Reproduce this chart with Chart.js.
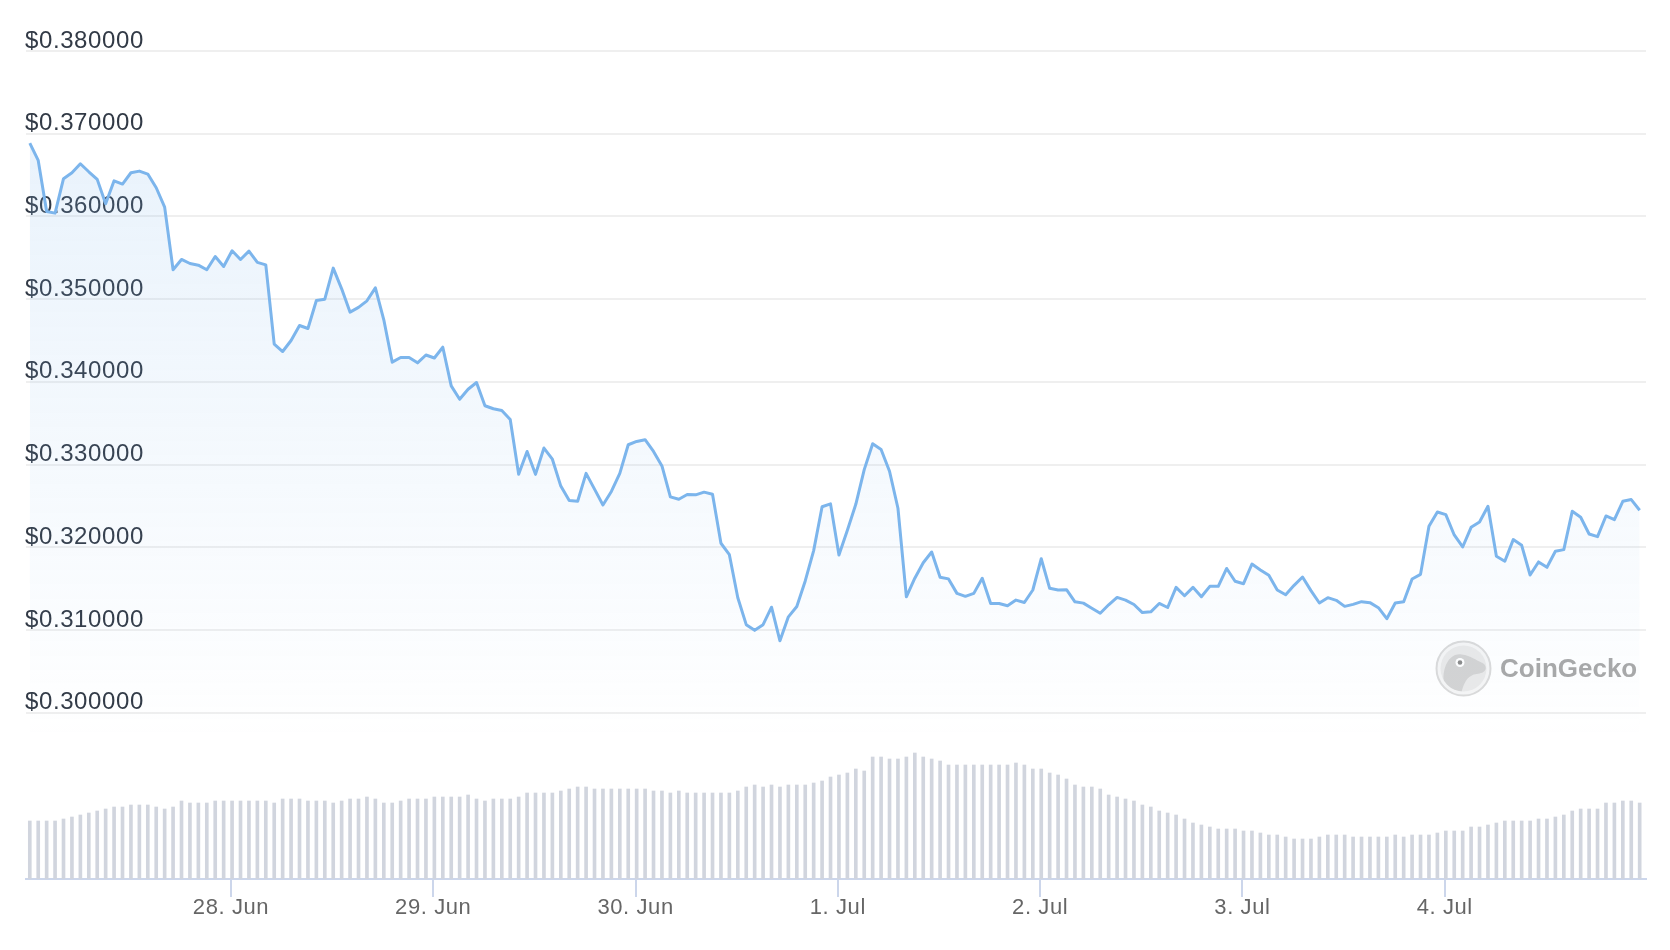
<!DOCTYPE html>
<html>
<head>
<meta charset="utf-8">
<title>Price chart</title>
<script src="https://cdn.jsdelivr.net/npm/chart.js@4/dist/chart.umd.min.js"></script>
<style>
  html, body { margin: 0; padding: 0; background: #fff; }
  #wrap { width: 1670px; height: 950px; position: relative; }
</style>
</head>
<body>
<div id="wrap"><canvas id="priceChart"></canvas></div>
<script>
// hourly price, 27 Jun 00:08 -> 4 Jul 23:08
const prices = [
  0.36887, 0.36677, 0.36060, 0.36040, 0.36456, 0.36528, 0.36637, 0.36540, 0.36448, 0.36153,
  0.36431, 0.36391, 0.36528, 0.36548, 0.36512, 0.36347, 0.36113, 0.35355, 0.35480, 0.35431,
  0.35411, 0.35355, 0.35516, 0.35395, 0.35585, 0.35480, 0.35581, 0.35444, 0.35415, 0.34456,
  0.34367, 0.34500, 0.34681, 0.34645, 0.34984, 0.35000, 0.35375, 0.35125, 0.34843, 0.34900,
  0.34980, 0.35137, 0.34750, 0.34238, 0.34294, 0.34294, 0.34230, 0.34325, 0.34289, 0.34419,
  0.33951, 0.33789, 0.33911, 0.33992, 0.33711, 0.33675, 0.33654, 0.33545, 0.32882, 0.33159,
  0.32882, 0.33200, 0.33065, 0.32740, 0.32565, 0.32557, 0.32894, 0.32703, 0.32512, 0.32675,
  0.32894, 0.33240, 0.33280, 0.33301, 0.33159, 0.32984, 0.32610, 0.32581, 0.32638, 0.32634,
  0.32667, 0.32642, 0.32049, 0.31911, 0.31390, 0.31065, 0.30996, 0.31065, 0.31276, 0.30870,
  0.31159, 0.31285, 0.31593, 0.31960, 0.32490, 0.32525, 0.31907, 0.32207, 0.32520, 0.32939,
  0.33252, 0.33183, 0.32919, 0.32472, 0.31402, 0.31626, 0.31813, 0.31943, 0.31638, 0.31618,
  0.31443, 0.31407, 0.31443, 0.31626, 0.31321, 0.31321, 0.31293, 0.31362, 0.31333, 0.31484,
  0.31862, 0.31504, 0.31484, 0.31488, 0.31341, 0.31325, 0.31264, 0.31203, 0.31305, 0.31394,
  0.31362, 0.31309, 0.31211, 0.31220, 0.31321, 0.31272, 0.31516, 0.31415, 0.31516, 0.31402,
  0.31528, 0.31528, 0.31744, 0.31590, 0.31560, 0.31798, 0.31726, 0.31661, 0.31484, 0.31427,
  0.31540, 0.31641, 0.31476, 0.31327, 0.31391, 0.31359, 0.31286, 0.31310, 0.31343, 0.31331,
  0.31270, 0.31137, 0.31327, 0.31343, 0.31617, 0.31673, 0.32254, 0.32427, 0.32395, 0.32149,
  0.32004, 0.32242, 0.32306, 0.32496, 0.31891, 0.31831, 0.32093, 0.32024, 0.31665, 0.31823,
  0.31758, 0.31952, 0.31972, 0.32435, 0.32363, 0.32161, 0.32129, 0.32379, 0.32335, 0.32556,
  0.32577, 0.32448
];

// hourly volume (millions)
const volumes = [
  5.8, 5.8, 5.8, 5.8, 6.0, 6.2, 6.4, 6.6, 6.8, 7.0,
  7.2, 7.2, 7.4, 7.4, 7.4, 7.2, 7.0, 7.2, 7.8, 7.6,
  7.6, 7.6, 7.8, 7.8, 7.8, 7.8, 7.8, 7.8, 7.8, 7.6,
  8.0, 8.0, 8.0, 7.8, 7.8, 7.8, 7.6, 7.8, 8.0, 8.0,
  8.2, 8.0, 7.6, 7.6, 7.8, 8.0, 8.0, 8.0, 8.2, 8.2,
  8.2, 8.2, 8.4, 8.0, 7.8, 8.0, 8.0, 8.0, 8.2, 8.6,
  8.6, 8.6, 8.6, 8.8, 9.0, 9.2, 9.2, 9.0, 9.0, 9.0,
  9.0, 9.0, 9.0, 9.0, 8.8, 8.8, 8.6, 8.8, 8.6, 8.6,
  8.6, 8.6, 8.6, 8.6, 8.8, 9.2, 9.4, 9.2, 9.4, 9.2,
  9.4, 9.4, 9.4, 9.6, 9.8, 10.2, 10.4, 10.6, 11.0, 10.8,
  12.2, 12.2, 12.0, 12.0, 12.2, 12.6, 12.2, 12.0, 11.8, 11.4,
  11.4, 11.4, 11.4, 11.4, 11.4, 11.4, 11.4, 11.6, 11.4, 11.0,
  11.0, 10.6, 10.4, 10.0, 9.4, 9.2, 9.2, 9.0, 8.4, 8.2,
  8.0, 7.8, 7.4, 7.2, 6.8, 6.6, 6.4, 6.0, 5.6, 5.4,
  5.2, 5.0, 5.0, 5.0, 4.8, 4.8, 4.6, 4.4, 4.4, 4.2,
  4.0, 4.0, 4.0, 4.2, 4.4, 4.4, 4.4, 4.2, 4.2, 4.2,
  4.2, 4.2, 4.4, 4.2, 4.4, 4.4, 4.4, 4.6, 4.8, 4.8,
  4.8, 5.2, 5.2, 5.4, 5.6, 5.8, 5.8, 5.8, 5.8, 6.0,
  6.0, 6.2, 6.4, 6.8, 7.0, 7.0, 7.0, 7.6, 7.6, 7.8,
  7.8, 7.6
];

const priceTicks = [0.30, 0.31, 0.32, 0.33, 0.34, 0.35, 0.36, 0.37, 0.38];
const dayTicks = [24, 48, 72, 96, 120, 144, 168];   // hours since 27 Jun 00:00
const dayLabels = ['28. Jun', '29. Jun', '30. Jun', '1. Jul', '2. Jul', '3. Jul', '4. Jul'];

const firstHour = 0.13;
const hours = prices.map((_, i) => firstHour + i);

const FONT = '"Liberation Sans", Arial, Helvetica, sans-serif';

// 漸層填色：上方淡藍，到 $0.30 以下淡出
function areaFill(context) {
  const { chart } = context;
  const { ctx, chartArea, scales } = chart;
  if (!chartArea) return 'rgba(124,181,236,0.1)';
  const top = scales.y.getPixelForValue(0.37);
  const bottom = scales.y.getPixelForValue(0.297);
  const g = ctx.createLinearGradient(0, top, 0, bottom);
  g.addColorStop(0, 'rgba(124,181,236,0.17)');
  g.addColorStop(0.9, 'rgba(124,181,236,0.02)');
  g.addColorStop(1, 'rgba(124,181,236,0)');
  return g;
}

// 刻度文字稍微加寬字距
const letterSpacing = {
  id: 'letterSpacing',
  beforeDraw(chart) { chart.ctx.letterSpacing = '0.6px'; },
  afterDraw(chart) { chart.ctx.letterSpacing = '0px'; }
};

// CoinGecko 浮水印
const watermark = {
  id: 'watermark',
  beforeDatasetsDraw(chart) {
    const { ctx } = chart;
    const cx = 1463.5, cy = 668.5, r = 27;
    ctx.save();
    ctx.letterSpacing = '0px';
    ctx.beginPath();
    ctx.arc(cx, cy, r, 0, Math.PI * 2);
    ctx.fillStyle = '#f5f5f5';
    ctx.fill();
    ctx.lineWidth = 2;
    ctx.strokeStyle = '#dadada';
    ctx.stroke();
    ctx.beginPath();
    ctx.arc(cx, cy, r - 4, 0, Math.PI * 2);
    ctx.fillStyle = '#e9e9e9';
    ctx.fill();
    // gecko head
    ctx.save();
    ctx.beginPath();
    ctx.arc(cx, cy, r - 4, 0, Math.PI * 2);
    ctx.clip();
    ctx.beginPath();
    ctx.moveTo(cx - 18, cy + 24);
    ctx.bezierCurveTo(cx - 24, cy + 4, cx - 16, cy - 16, cx - 2, cy - 14);
    ctx.bezierCurveTo(cx + 8, cy - 13, cx + 12, cy - 8, cx + 18, cy - 6);
    ctx.bezierCurveTo(cx + 24, cy - 4, cx + 24, cy + 4, cx + 16, cy + 5);
    ctx.bezierCurveTo(cx + 8, cy + 6, cx + 2, cy + 8, cx - 2, cy + 24);
    ctx.closePath();
    ctx.fillStyle = '#d3d3d3';
    ctx.fill();
    ctx.restore();
    ctx.beginPath();
    ctx.arc(cx - 3.5, cy - 6, 4.5, 0, Math.PI * 2);
    ctx.fillStyle = '#ffffff';
    ctx.fill();
    ctx.beginPath();
    ctx.arc(cx - 3.5, cy - 6, 2.3, 0, Math.PI * 2);
    ctx.fillStyle = '#8a8a8a';
    ctx.fill();
    ctx.font = 'bold 26px ' + FONT;
    ctx.fillStyle = '#a8a8a8';
    ctx.textAlign = 'left';
    ctx.textBaseline = 'alphabetic';
    ctx.fillText('CoinGecko', 1500, 677);
    ctx.restore();
  }
};

const ctx = document.getElementById('priceChart').getContext('2d');
new Chart(ctx, {
  data: {
    datasets: [
      {
        type: 'line',
        label: 'Price',
        data: hours.map((h, i) => ({ x: h, y: prices[i] })),
        yAxisID: 'y',
        borderColor: '#7cb5ec',
        borderWidth: 3,
        borderJoinStyle: 'round',
        pointRadius: 0,
        tension: 0,
        fill: 'start',
        backgroundColor: areaFill,
        order: 0
      },
      {
        type: 'bar',
        label: 'Volume',
        data: hours.map((h, i) => ({ x: h, y: volumes[i] })),
        yAxisID: 'yVol',
        backgroundColor: '#d1d5de',
        barThickness: 3,
        order: 1
      }
    ]
  },
  options: {
    responsive: true,
    maintainAspectRatio: false,
    animation: false,
    layout: { padding: { left: 26, right: 24, top: 51, bottom: 0 } },
    plugins: { legend: { display: false }, tooltip: { enabled: false } },
    scales: {
      x: {
        type: 'linear',
        min: -0.32,
        max: 191.88,
        offset: false,
        afterBuildTicks: s => { s.ticks = dayTicks.map(v => ({ value: v })); },
        afterFit: s => { s.height = 71; },
        grid: { offset: false, drawOnChartArea: false, drawTicks: true, tickLength: 18, color: '#ccd6eb', lineWidth: 2 },
        border: { color: '#ccd6eb', width: 2 },
        ticks: {
          color: '#666666',
          font: { family: FONT, size: 22, lineHeight: 1 },
          padding: 0,
          maxRotation: 0,
          autoSkip: false,
          callback: v => dayLabels[dayTicks.indexOf(v)]
        }
      },
      y: {
        position: 'left',
        min: 0.2799,
        max: 0.38,
        afterBuildTicks: s => { s.ticks = priceTicks.map(v => ({ value: v })); },
        afterFit: s => { s.width = 0; },
        grid: { color: '#efefef', lineWidth: 2, drawTicks: false },
        border: { display: false },
        ticks: {
          mirror: true,
          padding: -1,
          labelOffset: -10,
          color: '#323a46',
          font: { family: FONT, size: 24 },
          callback: v => '$' + v.toFixed(6)
        }
      },
      yVol: { display: false, min: 0, max: 82.8 }
    }
  },
  plugins: [letterSpacing, watermark]
});
</script>
</body>
</html>
